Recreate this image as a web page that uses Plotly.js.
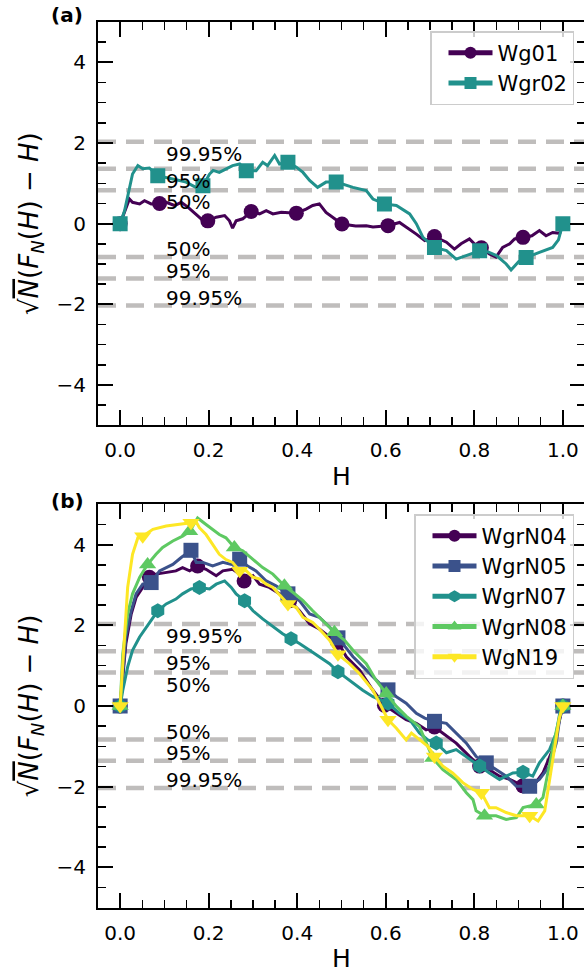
<!DOCTYPE html>
<html>
<head>
<meta charset="utf-8">
<script src="https://cdn.plot.ly/plotly-3.0.1.min.js"></script>
<style>
html,body{margin:0;padding:0;overflow:hidden;background:#fff;}
#chart{width:586px;height:977px;}
</style>
</head>
<body>
<div id="chart"></div>
<script>
// ---------- Panel (a) ----------
const wg01_H = [0, 0.01, 0.021, 0.028, 0.044, 0.055, 0.07, 0.089, 0.104, 0.123, 0.138, 0.153, 0.172, 0.183, 0.198, 0.217, 0.236, 0.247, 0.254, 0.262, 0.277, 0.296, 0.315, 0.33, 0.345, 0.364, 0.398, 0.42, 0.435, 0.45, 0.465, 0.481, 0.501, 0.532, 0.556, 0.571, 0.605, 0.631, 0.646, 0.669, 0.688, 0.71, 0.737, 0.755, 0.77, 0.789, 0.8, 0.816, 0.834, 0.849, 0.864, 0.88, 0.891, 0.91, 0.93, 0.947, 0.962, 0.977, 0.993, 1.0];
const wg01_V = [0, 0.28, 0.61, 0.53, 0.49, 0.57, 0.49, 0.50, 0.53, 0.45, 0.53, 0.41, 0.24, 0.12, 0.07, 0.16, 0.20, 0.07, -0.11, 0.07, 0.12, 0.30, 0.24, 0.32, 0.24, 0.28, 0.26, 0.36, 0.45, 0.49, 0.28, 0.16, -0.01, -0.06, -0.05, -0.08, -0.05, 0.03, -0.08, -0.26, -0.42, -0.32, -0.46, -0.63, -0.5, -0.38, -0.5, -0.6, -0.75, -0.83, -0.59, -0.5, -0.38, -0.34, -0.30, -0.17, -0.3, -0.22, -0.24, 0];
const wg01_marks = [0, 0.089, 0.198, 0.296, 0.398, 0.501, 0.605, 0.71, 0.816, 0.91];

const wgr02_H = [0, 0.01, 0.028, 0.04, 0.051, 0.066, 0.085, 0.104, 0.134, 0.149, 0.171, 0.187, 0.202, 0.21, 0.224, 0.254, 0.27, 0.285, 0.307, 0.322, 0.333, 0.349, 0.36, 0.379, 0.398, 0.413, 0.428, 0.446, 0.465, 0.488, 0.526, 0.556, 0.571, 0.597, 0.624, 0.654, 0.669, 0.684, 0.71, 0.737, 0.759, 0.78, 0.812, 0.831, 0.85, 0.872, 0.883, 0.902, 0.917, 0.947, 0.977, 0.99, 1.0];
const wgr02_V = [0, 0.32, 1.23, 1.44, 1.36, 1.38, 1.19, 1.15, 1.07, 1.03, 0.90, 0.94, 1.23, 1.32, 1.27, 1.44, 1.48, 1.31, 1.31, 1.52, 1.44, 1.69, 1.48, 1.52, 1.40, 1.27, 1.07, 0.90, 1.03, 1.03, 0.90, 0.82, 0.61, 0.49, 0.45, 0.24, 0.0, -0.34, -0.59, -0.67, -0.88, -0.8, -0.67, -0.7, -0.79, -1.0, -1.15, -0.92, -0.84, -0.71, -0.59, -0.4, 0];
const wgr02_marks = [0, 0.085, 0.187, 0.285, 0.379, 0.488, 0.597, 0.71, 0.812, 0.917, 1.0];

// ---------- Panel (b) ----------
const n04_H = [0, 0.013, 0.025, 0.036, 0.051, 0.066, 0.081, 0.104, 0.126, 0.141, 0.157, 0.175, 0.194, 0.217, 0.232, 0.254, 0.27, 0.28, 0.3, 0.315, 0.337, 0.36, 0.383, 0.405, 0.428, 0.45, 0.473, 0.492, 0.511, 0.541, 0.571, 0.597, 0.624, 0.646, 0.669, 0.691, 0.71, 0.737, 0.759, 0.789, 0.812, 0.834, 0.857, 0.88, 0.902, 0.91, 0.932, 0.955, 0.977, 0.988, 1.0];
const n04_V = [0, 1.55, 2.28, 2.69, 2.94, 3.19, 3.27, 3.31, 3.35, 3.43, 3.35, 3.47, 3.39, 3.23, 3.35, 3.39, 3.27, 3.10, 3.23, 3.02, 2.94, 2.78, 2.61, 2.36, 2.04, 1.91, 1.71, 1.58, 1.22, 0.89, 0.39, 0.02, -0.18, -0.34, -0.43, -0.59, -0.52, -0.75, -0.92, -1.25, -1.49, -1.58, -1.74, -1.82, -1.95, -1.98, -2.0, -1.66, -1.08, -0.59, 0];
const n04_marks = [0, 0.066, 0.175, 0.28, 0.383, 0.492, 0.597, 0.71, 0.812, 0.91, 1.0];

const n05_H = [0, 0.013, 0.025, 0.036, 0.051, 0.07, 0.089, 0.104, 0.119, 0.138, 0.16, 0.172, 0.187, 0.209, 0.232, 0.251, 0.27, 0.288, 0.307, 0.33, 0.352, 0.379, 0.405, 0.428, 0.45, 0.473, 0.492, 0.526, 0.556, 0.586, 0.605, 0.624, 0.646, 0.669, 0.688, 0.71, 0.737, 0.759, 0.782, 0.804, 0.827, 0.85, 0.872, 0.895, 0.925, 0.947, 0.97, 0.985, 0.993, 1.0];
const n05_V = [0, 1.71, 2.36, 2.78, 3.02, 3.06, 3.35, 3.43, 3.51, 3.68, 3.86, 3.56, 3.56, 3.47, 3.56, 3.51, 3.64, 3.47, 3.35, 3.10, 2.98, 2.78, 2.61, 2.28, 2.20, 1.96, 1.69, 1.22, 0.89, 0.56, 0.40, 0.23, 0.07, -0.18, -0.30, -0.38, -0.43, -0.67, -0.92, -1.25, -1.41, -1.58, -1.74, -1.99, -1.99, -1.82, -1.49, -0.92, -0.3, 0];
const n05_marks = [0, 0.07, 0.16, 0.27, 0.379, 0.492, 0.605, 0.71, 0.827, 0.925, 1.0];

const n07_H = [0, 0.006, 0.017, 0.028, 0.044, 0.059, 0.074, 0.085, 0.104, 0.126, 0.141, 0.16, 0.179, 0.202, 0.217, 0.236, 0.251, 0.262, 0.281, 0.3, 0.322, 0.345, 0.367, 0.386, 0.405, 0.428, 0.45, 0.473, 0.492, 0.526, 0.548, 0.571, 0.605, 0.631, 0.654, 0.676, 0.695, 0.714, 0.737, 0.759, 0.782, 0.812, 0.834, 0.857, 0.872, 0.887, 0.91, 0.932, 0.947, 0.97, 0.985, 0.993, 1.0];
const n07_V = [0, 0.39, 0.97, 1.38, 1.71, 1.96, 2.20, 2.36, 2.53, 2.65, 2.78, 2.90, 2.94, 2.90, 3.02, 3.10, 2.94, 2.78, 2.61, 2.36, 2.16, 1.96, 1.79, 1.67, 1.55, 1.38, 1.22, 1.05, 0.85, 0.56, 0.39, 0.23, 0.07, -0.18, -0.34, -0.67, -0.84, -0.92, -1.16, -1.08, -1.25, -1.49, -1.66, -1.82, -1.74, -1.66, -1.64, -1.74, -1.41, -1.08, -0.67, -0.18, 0];
const n07_marks = [0, 0.085, 0.179, 0.281, 0.386, 0.492, 0.605, 0.714, 0.812, 0.91, 1.0];

const n08_H = [0, 0.006, 0.017, 0.028, 0.044, 0.062, 0.081, 0.096, 0.119, 0.141, 0.157, 0.175, 0.194, 0.209, 0.224, 0.239, 0.258, 0.277, 0.3, 0.322, 0.345, 0.371, 0.39, 0.413, 0.435, 0.458, 0.484, 0.507, 0.526, 0.556, 0.578, 0.601, 0.624, 0.646, 0.676, 0.695, 0.706, 0.729, 0.759, 0.782, 0.797, 0.804, 0.823, 0.849, 0.872, 0.895, 0.91, 0.94, 0.955, 0.97, 0.985, 0.997, 1.0];
const n08_V = [0, 1.30, 2.28, 2.78, 3.19, 3.51, 3.76, 3.93, 4.09, 4.21, 4.33, 4.66, 4.50, 4.38, 4.25, 4.17, 3.93, 3.85, 3.64, 3.43, 3.27, 2.98, 2.82, 2.61, 2.36, 2.12, 1.83, 1.63, 1.38, 1.05, 0.64, 0.31, -0.01, -0.25, -0.51, -1.0, -1.29, -1.58, -1.82, -2.15, -2.32, -2.60, -2.72, -2.72, -2.81, -2.77, -2.52, -2.44, -2.27, -1.45, -0.63, -0.08, 0];
const n08_marks = [0, 0.062, 0.157, 0.258, 0.371, 0.484, 0.601, 0.706, 0.823, 0.94, 1.0];

const n19_H = [0, 0.01, 0.017, 0.028, 0.04, 0.051, 0.074, 0.104, 0.134, 0.16, 0.171, 0.179, 0.194, 0.209, 0.224, 0.239, 0.254, 0.27, 0.285, 0.3, 0.315, 0.33, 0.345, 0.379, 0.398, 0.413, 0.435, 0.45, 0.473, 0.492, 0.518, 0.541, 0.571, 0.605, 0.624, 0.646, 0.658, 0.677, 0.695, 0.71, 0.729, 0.751, 0.774, 0.797, 0.816, 0.834, 0.849, 0.872, 0.895, 0.925, 0.944, 0.959, 0.97, 0.981, 0.992, 1.0];
const n19_V = [0, 1.71, 2.94, 3.76, 4.17, 4.21, 4.38, 4.46, 4.50, 4.54, 4.58, 4.42, 4.25, 4.01, 3.76, 3.63, 3.56, 3.35, 3.35, 3.19, 3.15, 3.02, 2.94, 2.53, 2.44, 2.20, 2.07, 1.91, 1.63, 1.28, 1.05, 0.80, 0.39, -0.34, -0.55, -0.84, -0.67, -0.84, -1.0, -1.25, -1.49, -1.66, -1.90, -2.07, -2.15, -2.52, -2.52, -2.64, -2.72, -2.72, -2.85, -2.6, -1.86, -1.04, -0.30, 0];
const n19_marks = [0, 0.051, 0.16, 0.27, 0.379, 0.492, 0.605, 0.71, 0.816, 0.925, 1.0];

// critical levels
const levelNames = ['50%', '95%', '99.95%'];
const levelValues = [0.83, 1.36, 2.03];

const topNames = ['Wg01', 'Wgr02'];
const botNames = ['WgrN04', 'WgrN05', 'WgrN07', 'WgrN08', 'WgN19'];

// ---------- build ----------
const FONT = 'DejaVu Sans';
const MS = 15;
function series(H, V, marks, name, color, symbol, xa, ya, legend) {
  const set = new Set(marks);
  return {
    x: H, y: V, name: name, type: 'scatter', mode: 'lines+markers',
    xaxis: xa, yaxis: ya, legend: legend,
    line: {color: color, width: 3},
    marker: {color: color, symbol: symbol, opacity: 1, size: H.map(h => set.has(h) ? MS : 0), line: {width: 0}},
    hoverinfo: 'skip'
  };
}
const traces = [
  series(wg01_H, wg01_V, wg01_marks, topNames[0], '#440154', 'circle', 'x', 'y', 'legend'),
  series(wgr02_H, wgr02_V, wgr02_marks, topNames[1], '#21918c', 'square', 'x', 'y', 'legend'),
  series(n04_H, n04_V, n04_marks, botNames[0], '#440154', 'circle', 'x2', 'y2', 'legend2'),
  series(n05_H, n05_V, n05_marks, botNames[1], '#3b528b', 'square', 'x2', 'y2', 'legend2'),
  series(n07_H, n07_V, n07_marks, botNames[2], '#21918c', 'hexagon', 'x2', 'y2', 'legend2'),
  series(n08_H, n08_V, n08_marks, botNames[3], '#5ec962', 'triangle-up', 'x2', 'y2', 'legend2'),
  series(n19_H, n19_V, n19_marks, botNames[4], '#fde725', 'triangle-down', 'x2', 'y2', 'legend2')
];

const shapes = [];
const annotations = [];
[['x', 'y'], ['x2', 'y2']].forEach(([xa, ya]) => {
  levelValues.forEach((v, i) => {
    [v, -v].forEach(yv => {
      shapes.push({type: 'line', xref: xa + ' domain', x0: 0, x1: 1, yref: ya, y0: yv, y1: yv,
        line: {color: 'rgba(128,124,122,0.5)', width: 4.5, dash: '18px,10px'}, layer: 'below'});
    });
    annotations.push({xref: xa, yref: ya, x: 0.1, y: v - 0.3, text: levelNames[i], showarrow: false,
      xanchor: 'left', yanchor: 'middle', font: {family: FONT, size: 20, color: 'black'}});
    annotations.push({xref: xa, yref: ya, x: 0.1, y: -v + 0.19, text: levelNames[i], showarrow: false,
      xanchor: 'left', yanchor: 'middle', font: {family: FONT, size: 20, color: 'black'}});
  });
});
annotations.push({xref: 'paper', yref: 'paper', x: -0.101, y: 1 - 15/977, text: '<b>(a)</b>', showarrow: false,
  xanchor: 'left', yanchor: 'middle', font: {family: FONT, size: 20, color: 'black'}});
annotations.push({xref: 'paper', yref: 'paper', x: -0.101, y: 1 - 501/977, text: '<b>(b)</b>', showarrow: false,
  xanchor: 'left', yanchor: 'middle', font: {family: FONT, size: 20, color: 'black'}});

const ytitle = '√<span style="text-decoration:overline"><i>N</i></span>(<i>F</i><sub><i>N</i></sub>(<i>H</i>) − <i>H</i>)';

function xax(anchor) {
  return {anchor: anchor, domain: [0, 1], range: [-0.05, 1.05], tick0: 0, dtick: 0.2, tickformat: '.1f',
    showline: true, linecolor: 'black', linewidth: 2, mirror: 'ticks', ticks: 'inside', ticklen: 15, tickwidth: 2, tickcolor: 'black',
    showgrid: false, zeroline: false, ticklabelstandoff: 6,
    tickfont: {family: FONT, size: 20, color: 'black'},
    minor: {ticks: 'inside', ticklen: 8, tickwidth: 1.5, tickcolor: 'black', dtick: 0.05, tick0: 0, showgrid: false},
    title: {text: 'H', font: {family: FONT, size: 25, color: 'black'}, standoff: 6}};
}
function yax(anchor, domain) {
  return {anchor: anchor, domain: domain, range: [-5, 5], tick0: 0, dtick: 2,
    showline: true, linecolor: 'black', linewidth: 2, mirror: 'ticks', ticks: 'inside', ticklen: 15, tickwidth: 2, tickcolor: 'black',
    showgrid: false, zeroline: false, ticklabelstandoff: 6,
    tickfont: {family: FONT, size: 20, color: 'black'},
    minor: {ticks: 'inside', ticklen: 8, tickwidth: 1.5, tickcolor: 'black', dtick: 0.5, tick0: 0, showgrid: false},
    title: {text: ytitle, font: {family: FONT, size: 26, color: 'black'}, standoff: 10}};
}

const legendCommon = {xanchor: 'right', yanchor: 'top', bgcolor: 'rgba(255,255,255,0.8)', bordercolor: '#cccccc', borderwidth: 1.5,
  font: {family: FONT, size: 21, color: 'black'}, itemsizing: 'constant', itemwidth: 44, indentation: 12, tracegroupgap: 0};

const layout = {
  width: 586, height: 977,
  margin: {l: 98, r: 1, t: 0, b: 0},
  paper_bgcolor: 'white', plot_bgcolor: 'white',
  font: {family: FONT, size: 20, color: 'black'},
  showlegend: true,
  xaxis: xax('y'),
  yaxis: yax('x', [1 - 425.3/977, 1 - 22/977]),
  xaxis2: xax('y2'),
  yaxis2: yax('x2', [1 - 907.7/977, 1 - 504.3/977]),
  legend: Object.assign({x: (574 - 98)/487, y: 1 - 31/977}, legendCommon),
  legend2: Object.assign({x: (574 - 98)/487, y: 1 - 514/977}, legendCommon),
  shapes: shapes,
  annotations: annotations
};

Plotly.newPlot('chart', traces, layout, {displayModeBar: false, staticPlot: true});
</script>
</body>
</html>
